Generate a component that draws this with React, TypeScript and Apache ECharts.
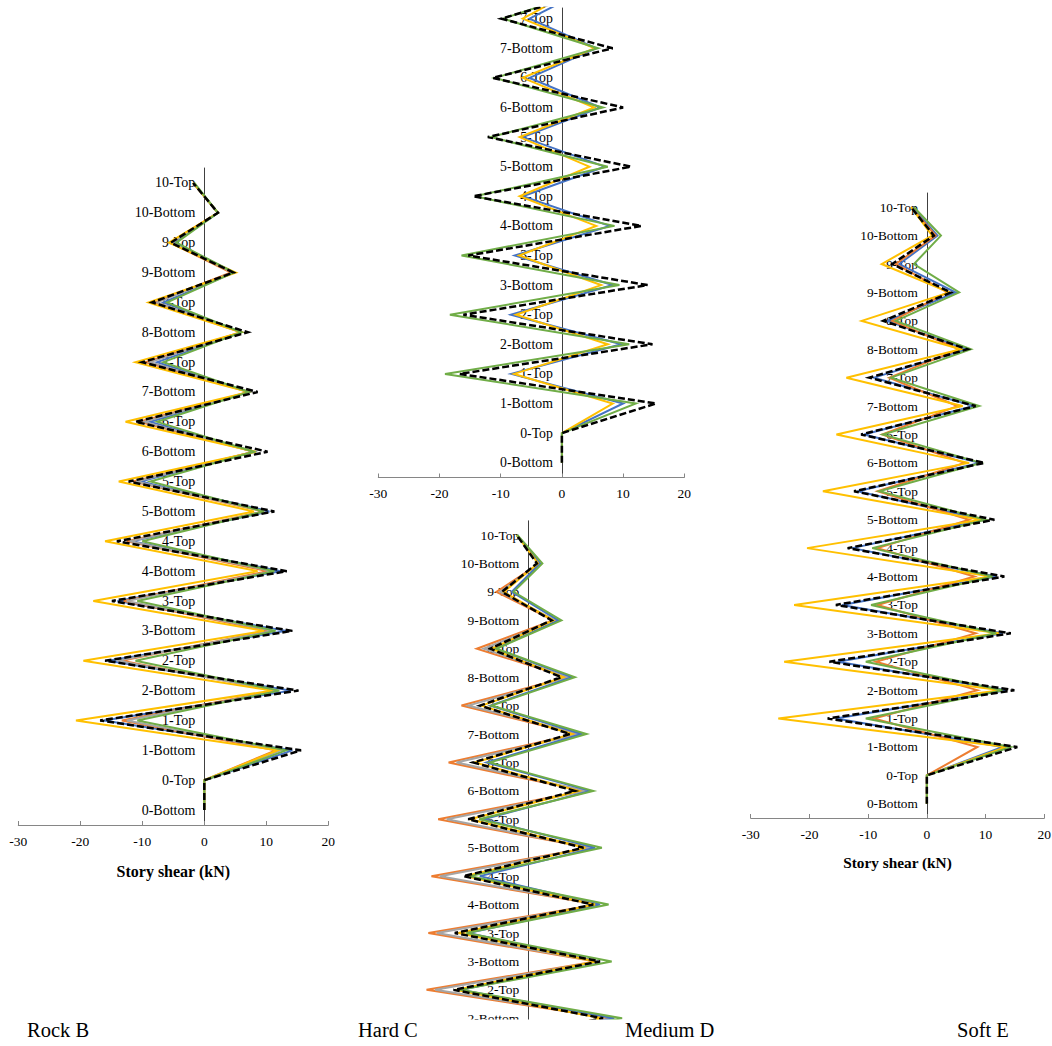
import React, { useEffect, useRef } from "react";
import * as echarts from "echarts";

// ---------- tick labels ----------
const STORIES = [
  "0-Bottom", "0-Top", "1-Bottom", "1-Top", "2-Bottom", "2-Top", "3-Bottom", "3-Top",
  "4-Bottom", "4-Top", "5-Bottom", "5-Top", "6-Bottom", "6-Top", "7-Bottom", "7-Top",
  "8-Bottom", "8-Top", "9-Bottom", "9-Top", "10-Bottom", "10-Top",
];
const X_TICKS_MIN = -30;
const X_TICKS_MAX = 20;
const AXIS_NAME = "Story shear (kN)";
const PANEL_NAMES = ["Rock B", "Hard C", "Medium D", "Soft E"];

// ---------- Rock B ----------
const rockBlue = [0, 0, 14.2, -16.2, 14.0, -15.5, 13.2, -14.0, 12.3, -11.7, 10.5, -10.3, 8.0, -8.7, 7.2, -7.6, 6.0, -6.6, 4.8, -4.8, 2.2, -1.8];
const rockOrange = [0, 0, 11.5, -13.3, 11.5, -13.3, 10.2, -13.0, 10.2, -12.5, 9.5, -11.5, 8.0, -10.5, 7.2, -9.5, 5.9, -8.0, 4.3, -5.5, 2.2, -1.8];
const rockGray = [0, 0, 12.3, -12.5, 12.0, -14.0, 11.0, -12.5, 11.0, -12.0, 9.8, -11.0, 8.0, -9.7, 7.2, -8.7, 6.0, -7.6, 4.6, -5.2, 2.2, -1.8];
const rockYellow = [0, 0, 11.8, -20.7, 11.0, -19.5, 9.6, -17.9, 8.6, -16.0, 8.0, -13.8, 8.3, -12.7, 7.2, -11.1, 6.0, -9.0, 5.1, -5.7, 2.2, -1.8];
const rockGreen = [0, 0, 13.2, -10.8, 12.1, -11.1, 11.5, -10.8, 11.3, -10.0, 9.6, -8.7, 8.0, -7.6, 7.2, -6.6, 6.0, -6.0, 4.8, -4.5, 2.2, -1.6];
const rockBlack = [0, 0, 15.6, -16.8, 15.2, -16.0, 14.2, -14.9, 13.3, -14.1, 11.3, -12.2, 10.2, -11.1, 8.6, -10.0, 7.0, -8.4, 4.7, -5.4, 2.2, -1.8];

// ---------- Hard C (visible part: 0-Bottom .. 8-Bottom) ----------
const hardBlue = [0, 0, 10.0, -8.3, 9.7, -8.3, 8.3, -7.7, 7.8, -6.4, 7.0, -6.4, 6.3, -5.3, 5.6, -5.3, 4.2];
const hardYellow = [0, 0, 8.3, -7.8, 7.5, -7.5, 6.4, -7.0, 5.6, -6.9, 4.5, -6.9, 5.3, -6.4, 5.4, -6.4, 2.5];
const hardGreen = [0, 0, 12.1, -19.1, 11.0, -18.3, 9.4, -16.4, 8.6, -14.2, 7.5, -11.6, 6.7, -11.0, 5.9, -9.6, 5.0];
const hardBlack = [0, 0, 15.4, -16.7, 14.8, -16.1, 14.0, -15.3, 13.0, -14.5, 11.3, -12.1, 10.0, -11.3, 8.3, -9.9, 6.5];

// ---------- Medium D (visible part: 1-Top .. 10-Top) ----------
const medOrange = [null, null, null, -17.0, 13.5, -16.6, 11.0, -16.3, 11.3, -15.8, 10.0, -14.7, 9.0, -13.0, 7.9, -10.9, 6.3, -8.4, 4.1, -5.2, 1.9, -1.9];
const medGray = [null, null, null, -15.5, 14.0, -15.2, 11.4, -14.9, 11.5, -14.4, 10.2, -13.3, 9.5, -11.7, 8.4, -9.8, 6.6, -7.3, 4.4, -4.6, 1.9, -1.9];
const medBlue = [null, null, null, -11.0, 14.0, -10.9, 11.4, -9.8, 11.7, -7.9, 10.9, -7.3, 10.1, -6.8, 8.7, -6.2, 7.1, -5.4, 4.9, -2.7, 1.9, -1.9];
const medYellow = [null, null, null, -12.2, 12.0, -11.9, 11.1, -11.4, 10.9, -10.3, 9.3, -9.5, 8.2, -8.7, 7.1, -7.6, 5.7, -6.0, 4.1, -4.0, 1.6, -1.9];
const medGreen = [null, null, null, -11.3, 15.3, -11.1, 13.6, -10.1, 13.1, -9.5, 12.0, -8.0, 10.6, -6.3, 9.5, -6.0, 7.6, -5.2, 5.4, -2.4, 2.3, -1.8];
const medBlack = [null, null, null, -12.5, 12.2, -12.2, 11.7, -12.0, 10.6, -10.6, 9.0, -9.8, 7.6, -9.0, 6.8, -7.9, 5.4, -6.2, 3.8, -4.3, 1.4, -1.9];

// ---------- Soft E ----------
const softBlue = [0, 0, 12.9, -15.5, 13.5, -15.2, 12.9, -14.4, 11.8, -12.7, 9.7, -11.8, 9.0, -10.7, 8.0, -9.0, 6.8, -6.7, 4.9, -4.7, 1.8, -2.5];
const softOrange = [0, 0, 8.6, -9.0, 8.6, -8.7, 8.3, -8.4, 8.1, -8.4, 7.2, -8.4, 6.4, -7.6, 5.2, -6.4, 5.5, -5.9, 3.5, -5.3, 1.5, -2.7];
const softYellow = [0, 0, 13.5, -25.3, 12.6, -24.3, 12.3, -22.6, 11.0, -20.4, 9.2, -17.7, 7.2, -15.4, 6.1, -13.7, 5.8, -11.1, 3.8, -7.7, 0.9, -2.7];
const softGreen = [0, 0, 14.3, -10.4, 12.9, -10.4, 11.8, -9.5, 11.2, -9.3, 10.0, -8.1, 9.2, -7.5, 8.9, -6.1, 7.5, -5.3, 5.5, -2.2, 2.4, -2.2];
const softBlack = [0, 0, 15.4, -16.9, 14.9, -16.6, 14.3, -15.5, 13.2, -13.5, 11.5, -12.4, 9.8, -11.2, 8.3, -9.8, 6.9, -7.4, 4.1, -5.9, 1.2, -2.7];

const COLORS: Record<string, string> = {
  blue: "#4472C4",
  orange: "#ED7D31",
  gray: "#A5A5A5",
  yellow: "#FFC000",
  green: "#70AD47",
  black: "#000000",
};

const SERIF = '"Liberation Serif", "Times New Roman", serif';

function toPairs(vals: (number | null)[]) {
  const out: number[][] = [];
  vals.forEach((v, i) => {
    if (v !== null && v !== undefined) out.push([v, i]);
  });
  return out;
}

function makeSeries(gridIdx: number, list: [string, (number | null)[]][]) {
  return list.map(([color, vals]) => ({
    type: "line",
    xAxisIndex: gridIdx,
    yAxisIndex: gridIdx,
    data: toPairs(vals),
    showSymbol: false,
    symbol: "none",
    clip: true,
    silent: true,
    z: color === "black" ? 5 : 3,
    lineStyle:
      color === "black"
        ? { color: COLORS.black, width: 2.5, type: [7, 3], join: "miter" }
        : { color: COLORS[color], width: 2, join: "miter" },
  }));
}

function xAxisCfg(gridIndex: number, show: boolean, nameGap: number, nameSize: number) {
  return {
    type: "value",
    gridIndex,
    show,
    min: X_TICKS_MIN,
    max: X_TICKS_MAX,
    interval: 10,
    name: gridIndex === 0 || gridIndex === 3 ? AXIS_NAME : "",
    nameLocation: "middle",
    nameGap,
    nameTextStyle: { fontFamily: SERIF, fontSize: nameSize, fontWeight: "bold", color: "#000" },
    axisLine: { show: true, onZero: false, lineStyle: { color: "#868686", width: 1 } },
    axisTick: { show: true, inside: true, length: 4, lineStyle: { color: "#868686" } },
    axisLabel: { fontFamily: SERIF, fontSize: 13.5, color: "#000", margin: 9 },
    splitLine: { show: false },
  };
}

// y axis drawn at the zero of the shear axis: offset = -(distance from grid left to x = 0)
function yAxisCfg(gridIndex: number, min: number, max: number, fontSize: number, gridWidth: number) {
  const zeroOffset = (gridWidth * (0 - X_TICKS_MIN)) / (X_TICKS_MAX - X_TICKS_MIN);
  return {
    type: "value",
    gridIndex,
    position: "left",
    offset: -zeroOffset,
    min,
    max,
    interval: 0.5,
    axisLine: { show: true, onZero: false, lineStyle: { color: "#404040", width: 1 } },
    axisTick: { show: false },
    splitLine: { show: false },
    axisLabel: {
      fontFamily: SERIF,
      fontSize,
      color: "#000",
      margin: 9,
      formatter: (v: number) =>
        Number.isInteger(v) && v >= 0 && v < STORIES.length ? STORIES[v] : "",
    },
  };
}

const GRIDS = [
  { left: 18.3, top: 168, width: 310, height: 657 },
  { left: 378.3, top: 8, width: 306, height: 469.5 },
  { left: 344.4, top: 520.8, width: 306.5, height: 511.7 },
  { left: 750.7, top: 193, width: 293.6, height: 625 },
];

export default function App() {
  const ref = useRef<HTMLDivElement>(null);

  useEffect(() => {
    if (!ref.current) return;
    const chart = echarts.init(ref.current, undefined, { renderer: "svg" });
    const option = {
      animation: false,
      backgroundColor: "#ffffff",
      grid: GRIDS.map((g) => ({ ...g, containLabel: false, outerBoundsMode: "none" })),
      xAxis: [
        xAxisCfg(0, true, 38, 16),
        xAxisCfg(1, true, 38, 14),
        xAxisCfg(2, false, 38, 14),
        xAxisCfg(3, true, 37, 15.3),
      ],
      yAxis: [
        yAxisCfg(0, -0.5, 21.5, 14, GRIDS[0].width),
        yAxisCfg(1, -0.5, 15.36, 13.8, GRIDS[1].width),
        yAxisCfg(2, 3.5, 21.5, 13.5, GRIDS[2].width),
        yAxisCfg(3, -0.5, 21.5, 13.3, GRIDS[3].width),
      ],
      series: [
        ...makeSeries(0, [
          ["blue", rockBlue],
          ["orange", rockOrange],
          ["gray", rockGray],
          ["yellow", rockYellow],
          ["green", rockGreen],
          ["black", rockBlack],
        ]),
        ...makeSeries(1, [
          ["blue", hardBlue],
          ["yellow", hardYellow],
          ["green", hardGreen],
          ["black", hardBlack],
        ]),
        ...makeSeries(2, [
          ["orange", medOrange],
          ["gray", medGray],
          ["blue", medBlue],
          ["yellow", medYellow],
          ["green", medGreen],
          ["black", medBlack],
        ]),
        ...makeSeries(3, [
          ["blue", softBlue],
          ["orange", softOrange],
          ["yellow", softYellow],
          ["green", softGreen],
          ["black", softBlack],
        ]),
      ],
      graphic: [
        {
          type: "rect",
          z: 100,
          silent: true,
          shape: { x: 435, y: 1019.5, width: 270, height: 30 },
          style: { fill: "#ffffff" },
        },
        ...PANEL_NAMES.map((name, i) => ({
          type: "text",
          z: 110,
          silent: true,
          x: [27, 358, 625, 957][i],
          y: 1030,
          style: {
            text: name,
            fontFamily: SERIF,
            fontSize: 20.5,
            fill: "#000",
            verticalAlign: "middle",
          },
        })),
      ],
    };
    chart.setOption(option as any);
    return () => chart.dispose();
  }, []);

  return (
    <div
      ref={ref}
      style={{ position: "absolute", left: 0, top: 0, width: 1052, height: 1046, overflow: "hidden" }}
    />
  );
}
